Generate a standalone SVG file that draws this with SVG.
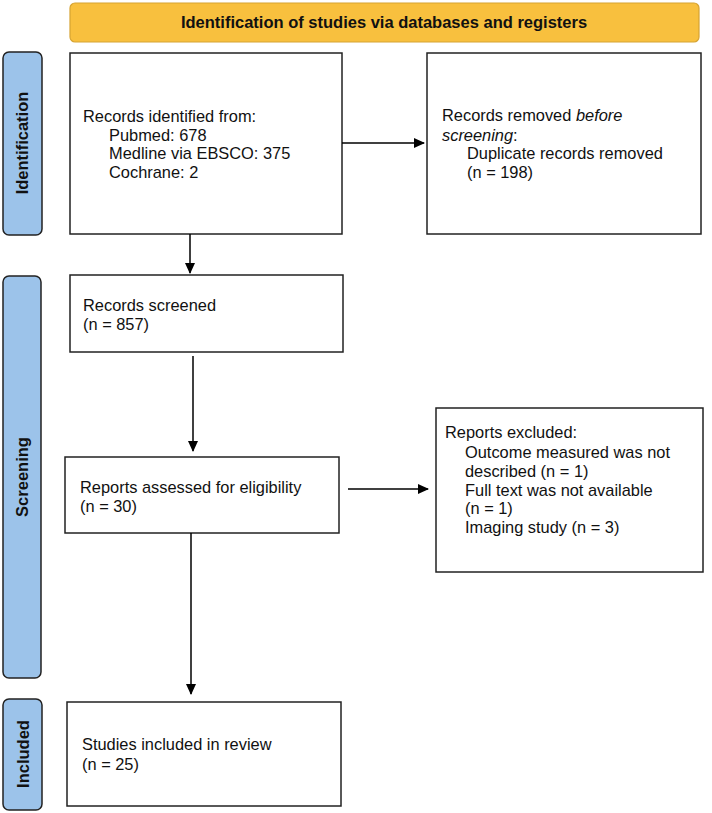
<svg xmlns="http://www.w3.org/2000/svg" width="712" height="813" viewBox="0 0 712 813">
<defs>
<marker id="ah" markerWidth="11" markerHeight="10" refX="10" refY="5" orient="auto" markerUnits="userSpaceOnUse">
<path d="M0,0 L11,5 L0,10 Z" fill="#000"/>
</marker>
<style>
.box{fill:#fff;stroke:#222;stroke-width:1.5}
.lab{fill:#9cc3ea;stroke:#222;stroke-width:1.5}
.hdr{fill:#f8c03e;stroke:#d6a332;stroke-width:1.2}
.t{font-family:"Liberation Sans",Arial,sans-serif;font-size:16.4px;fill:#111}
.b{font-family:"Liberation Sans",Arial,sans-serif;font-size:16.5px;font-weight:bold;fill:#111}
.c{stroke:#000;stroke-width:1.5;fill:none;marker-end:url(#ah)}
</style>
</defs>
<g id="header">
<rect class="hdr" x="70" y="3" width="629" height="39" rx="5"/>
<text class="b" x="384" y="28" text-anchor="middle">Identification of studies via databases and registers</text>
</g>
<g id="label-identification">
<rect class="lab" x="3" y="52" width="39" height="183" rx="6"/>
<text class="b" transform="translate(28,143) rotate(-90)" text-anchor="middle">Identification</text>
</g>
<g id="label-screening">
<rect class="lab" x="3" y="276" width="38" height="402" rx="6"/>
<text class="b" transform="translate(28,477) rotate(-90)" text-anchor="middle">Screening</text>
</g>
<g id="label-included">
<rect class="lab" x="3" y="699" width="39" height="111" rx="6"/>
<text class="b" transform="translate(29,754) rotate(-90)" text-anchor="middle">Included</text>
</g>
<g id="records-identified">
<rect class="box" x="70" y="53" width="272" height="181"/>
<text class="t" x="83" y="122">Records identified from:</text>
<text class="t" x="109" y="141">Pubmed: 678</text>
<text class="t" x="109" y="159">Medline via EBSCO: 375</text>
<text class="t" x="109" y="178">Cochrane: 2</text>
</g>
<g id="records-removed">
<rect class="box" x="427" y="53" width="274" height="181"/>
<text class="t" x="442" y="121">Records removed <tspan font-style="italic">before</tspan></text>
<text class="t" x="442" y="141"><tspan font-style="italic">screening</tspan>:</text>
<text class="t" x="467" y="159">Duplicate records removed</text>
<text class="t" x="467" y="178">(n = 198)</text>
</g>
<g id="records-screened">
<rect class="box" x="70" y="275" width="273" height="77"/>
<text class="t" x="83" y="311">Records screened</text>
<text class="t" x="83" y="330">(n = 857)</text>
</g>
<g id="reports-assessed">
<rect class="box" x="65" y="457" width="274" height="76"/>
<text class="t" x="80" y="493">Reports assessed for eligibility</text>
<text class="t" x="80" y="512">(n = 30)</text>
</g>
<g id="reports-excluded">
<rect class="box" x="436" y="408" width="267" height="164"/>
<text class="t" x="445" y="438">Reports excluded:</text>
<text class="t" x="465" y="458">Outcome measured was not</text>
<text class="t" x="465" y="477">described (n = 1)</text>
<text class="t" x="465" y="496">Full text was not available</text>
<text class="t" x="465" y="514">(n = 1)</text>
<text class="t" x="465" y="533">Imaging study (n = 3)</text>
</g>
<g id="studies-included">
<rect class="box" x="67" y="702" width="274" height="104"/>
<text class="t" x="82" y="750">Studies included in review</text>
<text class="t" x="82" y="770">(n = 25)</text>
</g>
<g id="connectors">
<path class="c" d="M342,143 L424,143"/>
<path class="c" d="M190,234 L190,273"/>
<path class="c" d="M193,356 L193,451"/>
<path class="c" d="M348,489 L428,489"/>
<path class="c" d="M191,533 L191,694"/>
</g>
</svg>
